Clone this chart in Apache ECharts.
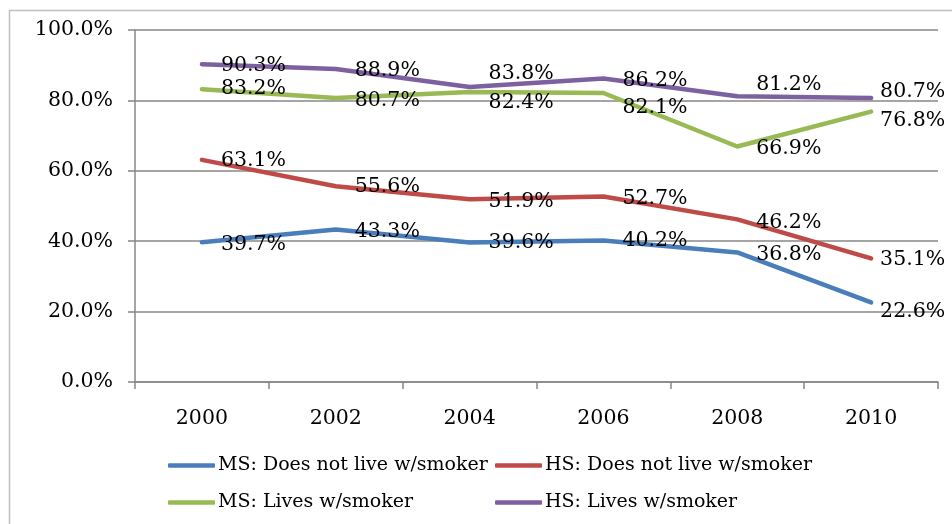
<!DOCTYPE html>
<html><head><meta charset="utf-8">
<script src="https://cdn.jsdelivr.net/npm/echarts@6/dist/echarts.min.js"></script>
<style>html,body{margin:0;padding:0;background:#fff}#c{width:952px;height:524px}</style>
</head><body><div id="c"></div>
<script>
const years = ['2000','2002','2004','2006','2008','2010'];
const seriesNames = ['MS: Does not live w/smoker','HS: Does not live w/smoker','MS: Lives w/smoker','HS: Lives w/smoker'];
const msNotLive = [39.7, 43.3, 39.6, 40.2, 36.8, 22.6];
const hsNotLive = [63.1, 55.6, 51.9, 52.7, 46.2, 35.1];
const msLives = [83.2, 80.7, 82.4, 82.1, 66.9, 76.8];
const hsLives = [90.3, 88.9, 83.8, 86.2, 81.2, 80.7];
const yTicks = [0, 20, 40, 60, 80, 100];

// styling (label nudges per point, px)
const colors = ['#4a7ebb', '#be4b48', '#98b954', '#7d60a0'];
const labelNudges = [
  [[0,2],[0,2],[0,0],[0,0],[0,2],[-10,9]],
  [[0,1],[0,0],[0,2],[0,2],[0,3],[-10,1]],
  [[0,0],[0,3],[0,11],[0,15],[0,2],[-10,9]],
  [[0,2],[0,2],[0,-13],[0,2],[0,-12],[-10,-6]]
];
const font = 'DejaVu Serif';
const allData = [msNotLive, hsNotLive, msLives, hsLives];
const SYM = 2;

const series = allData.map((vals, i) => ({
  name: seriesNames[i],
  type: 'line',
  symbol: 'circle',
  symbolSize: SYM,
  showSymbol: true,
  lineStyle: { width: 4.5, color: colors[i], join: 'round', cap: 'round' },
  itemStyle: { color: colors[i] },
  z: 2 + i,
  label: {
    show: true,
    fontFamily: font, fontSize: 20.5, color: '#000',
    align: 'left', verticalAlign: 'middle',
    formatter: p => p.value.toFixed(1) + '%'
  },
  labelLayout: { hideOverlap: false },
  data: vals.map((v, j) => ({
    value: v,
    label: { position: [SYM / 2 + 19 + labelNudges[i][j][0], SYM / 2 + labelNudges[i][j][1]] }
  }))
}));

function legendAt(idx, left, top) {
  return {
    data: [seriesNames[idx]], left: left, top: top,
    itemWidth: 47, itemHeight: 4.5, itemGap: 0,
    icon: 'roundRect',
    textStyle: { fontFamily: font, fontSize: 19, color: '#000', padding: [0,0,0,-2] }
  };
}

const chart = echarts.init(document.getElementById('c'));
chart.setOption({
  animation: false,
  graphic: [{ type: 'rect', shape: { x: 9.5, y: 10.5, width: 960, height: 540 },
    style: { fill: 'none', stroke: '#bfbfbf', lineWidth: 1.5 }, silent: true }],
  grid: { left: 135, top: 30, width: 803, height: 352 },
  legend: [legendAt(0, 163, 451), legendAt(1, 490, 451), legendAt(2, 163, 488), legendAt(3, 490, 488)],
  xAxis: {
    type: 'category', data: years, boundaryGap: true,
    axisLine: { lineStyle: { color: '#878787', width: 1.5 } },
    axisTick: { show: true, length: 7, lineStyle: { color: '#878787', width: 1.5 } },
    axisLabel: { fontFamily: font, fontSize: 20.5, color: '#000', margin: 26 }
  },
  yAxis: {
    type: 'value', min: 0, max: 100, interval: 20,
    axisLine: { show: true, lineStyle: { color: '#878787', width: 1.5 } },
    axisTick: { show: true, length: 7, lineStyle: { color: '#878787', width: 1.5 } },
    splitLine: { lineStyle: { color: '#878787', width: 1.5 } },
    axisLabel: { fontFamily: font, fontSize: 20.5, color: '#000', margin: 22,
      formatter: v => yTicks.includes(v) ? v.toFixed(1) + '%' : '' }
  },
  series: series
});
</script></body></html>
